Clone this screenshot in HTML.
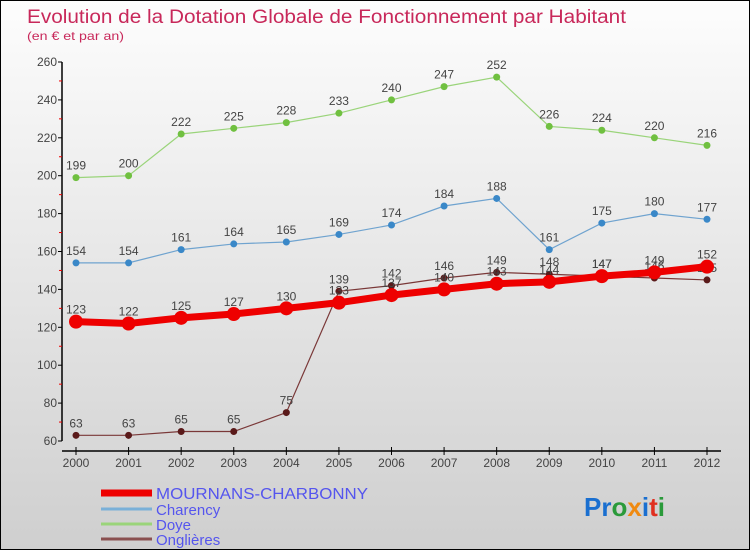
<!DOCTYPE html>
<html><head><meta charset="utf-8"><style>
body{margin:0}
#c{width:750px;height:550px;position:relative;box-sizing:border-box;border:1px solid #000;background:linear-gradient(#fdfdfd,#cfcfcf);font-family:"Liberation Sans",sans-serif;overflow:hidden}
</style></head><body>
<div id="c">
<svg id="s" width="750" height="550" style="position:absolute;left:0;top:0">
<text x="26" y="22" font-size="19" fill="#c8285a" textLength="599" lengthAdjust="spacingAndGlyphs">Evolution de la Dotation Globale de Fonctionnement par Habitant</text>
<text x="26" y="39" font-size="12" fill="#c8285a" textLength="97" lengthAdjust="spacingAndGlyphs">(en € et par an)</text>
<g id="axes"></g><g id="series"></g><g id="legend"></g>
<text x="583" y="515" font-size="26" font-weight="bold"><tspan fill="#1a6fd0">Pr</tspan><tspan fill="#2a9a3a">o</tspan><tspan fill="#f08a10">x</tspan><tspan fill="#1a6fd0">i</tspan><tspan fill="#e03020">t</tspan><tspan fill="#2a9a3a">i</tspan></text>
</svg>
</div>
<script>
const years=[2000,2001,2002,2003,2004,2005,2006,2007,2008,2009,2010,2011,2012];
const yTicks=[60,80,100,120,140,160,180,200,220,240,260];
const mournans=[123,122,125,127,130,133,137,140,143,144,147,149,152];
const charency=[154,154,161,164,165,169,174,184,188,161,175,180,177];
const doye=[199,200,222,225,228,233,240,247,252,226,224,220,216];
const onglieres=[63,63,65,65,75,139,142,146,149,148,147,146,145];
const NS="http://www.w3.org/2000/svg";
const X=i=>75+i*(706-75)/12;
const Y=v=>440-(v-60)*(440-61)/200;
function mk(t,a,p){const e=document.createElementNS(NS,t);for(const k in a)e.setAttribute(k,a[k]);p.appendChild(e);return e;}
const ax=document.getElementById('axes');
let l=mk('line',{x1:61,y1:61,x2:61,y2:440,stroke:'#000','stroke-width':1.5},ax);

l=mk('line',{x1:61,y1:450,x2:720,y2:450,stroke:'#000','stroke-width':1.5},ax);

yTicks.forEach((v,i)=>{mk('line',{x1:57,y1:Y(v),x2:61,y2:Y(v),stroke:'#000'},ax);
 if(i<yTicks.length-1)mk('line',{x1:58,y1:Y(v+10),x2:61,y2:Y(v+10),stroke:'#e00'},ax);
 const t=mk('text',{x:56,y:Y(v)+4,'font-size':12,'text-anchor':'end',fill:'#444'},ax);t.textContent=v;
 });
years.forEach((y,i)=>{mk('line',{x1:X(i),y1:446,x2:X(i),y2:454,stroke:'#000'},ax);
 const t=mk('text',{x:X(i),y:466,'font-size':12,'text-anchor':'middle',fill:'#444'},ax);t.textContent=y;
 });
const sg=document.getElementById('series');
function draw(arr,col,dot,w,r,name){const g=mk('g',{},sg);
 
 mk('polyline',{points:arr.map((v,i)=>X(i)+','+Y(v)).join(' '),fill:'none',stroke:col,'stroke-width':w},g);
 arr.forEach((v,i)=>{const c=mk('circle',{cx:X(i),cy:Y(v),r:r,fill:dot},g);
  
  const t=mk('text',{x:X(i),y:Y(v)-8,'font-size':12,'text-anchor':'middle',fill:'#444'},g);t.textContent=v;
  });}
draw(doye,'#9ad47a','#70c040',1.2,3.5,'doye');
draw(charency,'#6fa3cf','#3a88c8',1.2,3.5,'charency');
draw(onglieres,'#7a3838','#5a1a1a',1.2,3.5,'onglieres');
draw(mournans,'#ee0000','#ee0000',7,7,'mournans');
const lg=document.getElementById('legend');
[['MOURNANS-CHARBONNY','#ee0000',7,16,212],['Charency','#7ab0d8',3,15,0],['Doye','#9ad47a',3,15,0],['Onglières','#8a5050',3,15,0]].forEach((d,i)=>{
 const y=[492,508,523,538][i];
 const g=mk('g',{},lg);
 mk('line',{x1:100,y1:y,x2:151,y2:y,stroke:d[1],'stroke-width':d[2]},g);
 const t=mk('text',{x:155,y:y+6,'font-size':d[3],fill:'#5555ee'},g);t.textContent=d[0];
 if(d[4]){t.setAttribute('textLength',d[4]);t.setAttribute('lengthAdjust','spacingAndGlyphs');}});
</script>
</body></html>
